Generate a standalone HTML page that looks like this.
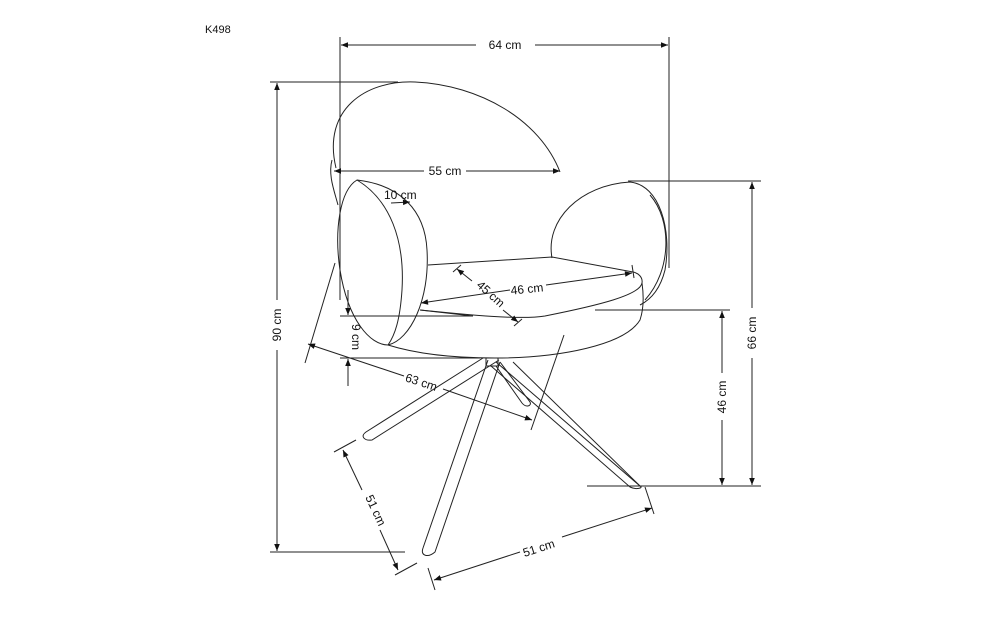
<!DOCTYPE html>
<html><head><style>
html,body{margin:0;padding:0;background:#fff;}
svg{display:block;}
text{font-family:"Liberation Sans",sans-serif;font-size:12px;fill:#111;}
</style></head><body>
<svg width="1000" height="643" viewBox="0 0 1000 643" xmlns="http://www.w3.org/2000/svg">
<defs>
<marker id="a" viewBox="0 0 10 10" refX="10" refY="5" markerWidth="10" markerHeight="7" orient="auto-start-reverse" markerUnits="userSpaceOnUse"><path d="M0,1 L10,5 L0,9 z" fill="#111"/></marker>
</defs>
<g stroke="#222" fill="none" stroke-width="1">
<text x="205" y="33" stroke="none" style="font-size:11px">K498</text>
<!-- 64 cm -->
<line x1="340" y1="37" x2="340" y2="300"/>
<line x1="669" y1="37" x2="669" y2="268"/>
<line x1="341" y1="45" x2="476" y2="45" marker-start="url(#a)"/>
<line x1="535" y1="45" x2="668" y2="45" marker-end="url(#a)"/>
<text x="505" y="49" text-anchor="middle" stroke="none">64 cm</text>
<!-- 90 cm -->
<line x1="270" y1="82" x2="398" y2="82"/>
<line x1="270" y1="552" x2="405" y2="552"/>
<line x1="277" y1="83" x2="277" y2="300" marker-start="url(#a)"/>
<line x1="277" y1="350" x2="277" y2="551" marker-end="url(#a)"/>
<text transform="translate(281,325) rotate(-90)" text-anchor="middle" stroke="none">90 cm</text>
<!-- back -->
<path d="M336,168 C322,110 365,80 415,82 C480,85 540,120 560,172"/>
<path d="M332,160 C328,175 334,190 338,205"/>
<!-- 55 -->
<line x1="334" y1="171" x2="424" y2="171" marker-start="url(#a)"/>
<line x1="466" y1="171" x2="560" y2="171" marker-end="url(#a)"/>
<text x="445" y="175" text-anchor="middle" stroke="none">55 cm</text>
<!-- left arm -->
<path d="M357,180 C340,190 334,230 340,270 C348,320 370,345 388,345 C410,340 430,300 427,250 C425,210 400,185 357,180 Z"/>
<path d="M357,180 C390,200 405,240 402,290 C400,320 395,335 388,345"/>
<text x="384" y="199" stroke="none">10 cm</text>
<line x1="391" y1="203" x2="410" y2="202" marker-end="url(#a)"/>
<!-- right arm -->
<path d="M552,258 C545,220 580,185 630,182 C660,185 672,230 665,270 C660,290 650,300 640,305"/>
<path d="M650,195 C672,220 672,270 645,300"/>
<!-- seat -->
<path d="M428,265 L552,257 L633,272"/>
<path d="M420,310 C470,315 520,320 545,316 C600,305 640,295 642,283 C643,277 638,273 633,272"/>
<path d="M388,345 C420,355 460,358 495,358 C560,358 625,345 640,320 C645,305 643,290 642,283"/>
<path d="M420,310 L473,316"/>
<!-- 46 cm seat -->
<line x1="421" y1="303" x2="510" y2="290" marker-start="url(#a)"/>
<line x1="546" y1="285" x2="632" y2="273" marker-end="url(#a)"/>
<line x1="632" y1="265" x2="634" y2="278"/>
<text x="527" y="293" text-anchor="middle" stroke="none" transform="rotate(-6 527 289)">46 cm</text>
<!-- 45 cm -->
<line x1="457" y1="269" x2="472" y2="281" marker-start="url(#a)"/>
<line x1="503" y1="310" x2="518" y2="322" marker-end="url(#a)"/>
<line x1="453" y1="272" x2="461" y2="265"/>
<line x1="514" y1="326" x2="522" y2="319"/>
<text transform="translate(488,297) rotate(42)" text-anchor="middle" stroke="none">45 cm</text>
<!-- 9 cm -->
<line x1="340" y1="316" x2="473" y2="316"/>
<line x1="340" y1="358" x2="480" y2="358"/>
<line x1="348" y1="290" x2="348" y2="315" marker-end="url(#a)"/>
<line x1="348" y1="386" x2="348" y2="359" marker-end="url(#a)"/>
<text transform="translate(352,337) rotate(90)" text-anchor="middle" stroke="none">9 cm</text>
<!-- 63 cm -->
<line x1="305" y1="363" x2="335" y2="263"/>
<line x1="531" y1="430" x2="564" y2="335"/>
<line x1="308" y1="344" x2="404" y2="376" marker-start="url(#a)"/>
<line x1="443" y1="389" x2="532" y2="420" marker-end="url(#a)"/>
<text transform="translate(420,386) rotate(18)" text-anchor="middle" stroke="none">63 cm</text>
<!-- legs -->
<rect x="486" y="358" width="12" height="8"/>
<path d="M483,358 L366,432 C360,436 364,441 372,440 L499,360"/>
<path d="M488,360 L423,548 C420,556 428,558 435,552 L500,362"/>
<path d="M496,362 L640,486 C644,488 636,490 630,487 L491,366"/>
<path d="M500,362 L530,402 C532,406 526,408 522,403 L496,366"/>
<path d="M513,362 L640,486"/>
<!-- 51 left -->
<line x1="334" y1="452" x2="356" y2="440"/>
<line x1="395" y1="575" x2="417" y2="563"/>
<line x1="343" y1="450" x2="362" y2="490" marker-start="url(#a)"/>
<line x1="380" y1="530" x2="398" y2="570" marker-end="url(#a)"/>
<text transform="translate(372,512) rotate(65)" text-anchor="middle" stroke="none">51 cm</text>
<!-- 51 bottom -->
<line x1="428" y1="568" x2="435" y2="590"/>
<line x1="645" y1="487" x2="654" y2="514"/>
<line x1="434" y1="580" x2="520" y2="552" marker-start="url(#a)"/>
<line x1="562" y1="537" x2="652" y2="508" marker-end="url(#a)"/>
<text transform="translate(540,552) rotate(-18)" text-anchor="middle" stroke="none">51 cm</text>
<!-- right dims -->
<line x1="628" y1="181" x2="761" y2="181"/>
<line x1="587" y1="486" x2="761" y2="486"/>
<line x1="595" y1="310" x2="730" y2="310"/>
<line x1="752" y1="182" x2="752" y2="308" marker-start="url(#a)"/>
<line x1="752" y1="358" x2="752" y2="485" marker-end="url(#a)"/>
<text transform="translate(756,333) rotate(-90)" text-anchor="middle" stroke="none">66 cm</text>
<line x1="722" y1="311" x2="722" y2="373" marker-start="url(#a)"/>
<line x1="722" y1="420" x2="722" y2="485" marker-end="url(#a)"/>
<text transform="translate(726,397) rotate(-90)" text-anchor="middle" stroke="none">46 cm</text>
</g>
</svg>
</body></html>
